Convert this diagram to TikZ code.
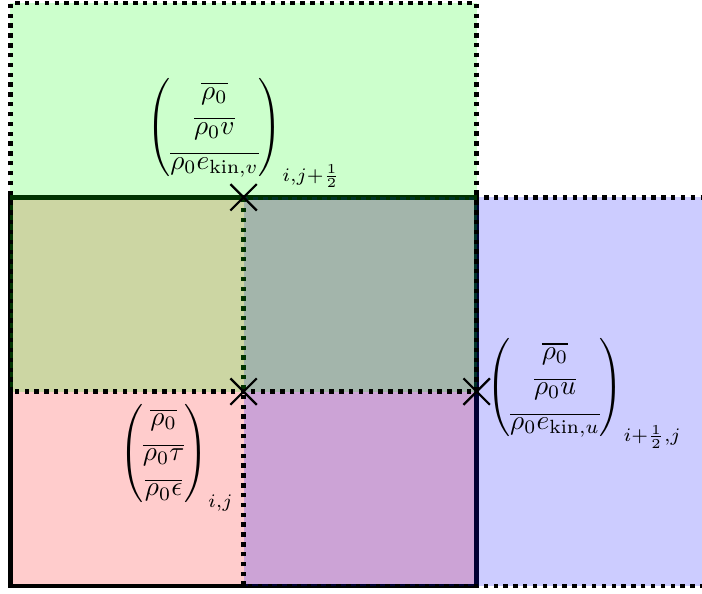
\documentclass[tikz,border=0pt]{standalone}
\usepackage{amsmath}
\usetikzlibrary{shapes.misc}
\renewcommand{\arraystretch}{1.07}
\begin{document}
\begin{tikzpicture}[
  solidborder/.style={line width=1.6pt},
  dotborder/.style={line width=1.6pt, dotted},
  facemark/.style={draw, cross out, thick, inner sep=0pt, outer sep=0pt, minimum size=0.34cm}
]
\useasboundingbox (-0.135,-0.103) rectangle (8.9,7.54);

% cell (i,j)
\fill[red!20] (0,0) rectangle (6,5);
\draw[solidborder] (0,0) rectangle (6,5);

% staggered cell (i+1/2,j)
\fill[blue, fill opacity=0.2] (3,0) rectangle (9,5);
\draw[dotborder] (3,0) rectangle (9,5);

% staggered cell (i,j+1/2)
\fill[green, fill opacity=0.2] (0,2.5) rectangle (6,7.5);
\draw[dotborder] (0,2.5) rectangle (6,7.5);

% cell centre and face centres
\node[facemark] (cc) at (3,2.5) {};
\node[facemark] (fu) at (6,2.5) {};
\node[facemark] (fv) at (3,5) {};

\node[anchor=north east] at (cc.center) {$\begin{pmatrix}\overline{\rho_0}\\ \overline{\rho_0\tau}\\ \overline{\rho_0\epsilon}\end{pmatrix}_{i,j}$};
\node[anchor=west] at (fu.center) {$\begin{pmatrix}\overline{\rho_0}\\ \overline{\rho_0 u}\\ \overline{\rho_0 e_{\mathrm{kin},u}}\end{pmatrix}_{i+\frac{1}{2},j}$};
\node[anchor=south] at (fv.center) {$\begin{pmatrix}\overline{\rho_0}\\ \overline{\rho_0 v}\\ \overline{\rho_0 e_{\mathrm{kin},v}}\end{pmatrix}_{i,j+\frac{1}{2}}$};
\end{tikzpicture}
\end{document}
